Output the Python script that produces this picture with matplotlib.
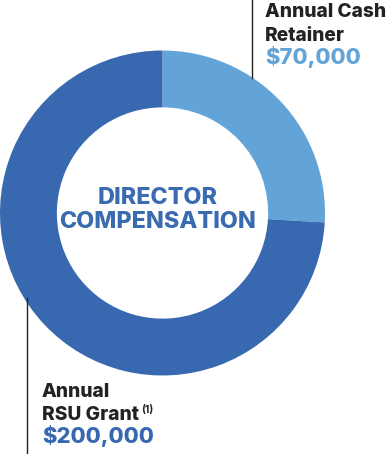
import matplotlib
matplotlib.use("Agg")
import matplotlib.pyplot as plt

labels = ["Annual Cash Retainer", "Annual RSU Grant"]
values = [70000, 200000]
value_labels = ["$70,000", "$200,000"]
colors = ["#62A4D8", "#3869B0"]

W, H = 386, 454
fig = plt.figure(figsize=(W / 100, H / 100), dpi=100)
ax = fig.add_axes([0, 0, 1, 1])

cx, cy, R = 162.5, H - 213, 162.5
ax.pie(values, colors=colors, startangle=90, counterclock=False,
       radius=R, center=(cx, cy), frame=True,
       wedgeprops=dict(width=R * 0.35, linewidth=0))
ax.set_xlim(0, W)
ax.set_ylim(0, H)
ax.set_aspect("equal")
ax.axis("off")

fam = ["Inter", "DejaVu Sans"]
dark_text = "#222222"
fs_lab = 13.8
fs_val = 15.8
fs_c = 16.8
wt = "heavy"

# center title
ax.text(158, H - 203.5, "DIRECTOR", ha="center", va="baseline", fontsize=fs_c,
        fontweight=wt, color="#3A6AB0", family=fam)
ax.text(158, H - 227.5, "COMPENSATION", ha="center", va="baseline", fontsize=fs_c,
        fontweight=wt, color="#3A6AB0", family=fam)

# top-right label
ax.plot([252, 252], [H - 0, H - 78], color="#222222", lw=1)
ax.text(265, H - 17, "Annual Cash", ha="left", va="baseline", fontsize=fs_lab,
        fontweight=wt, color=dark_text, family=fam)
ax.text(265, H - 41, "Retainer", ha="left", va="baseline", fontsize=fs_lab,
        fontweight=wt, color=dark_text, family=fam)
ax.text(265, H - 64, value_labels[0], ha="left", va="baseline", fontsize=fs_val,
        fontweight=wt, color=colors[0], family=fam)

# bottom-left label
ax.plot([27, 27], [H - 298, 0], color="#222222", lw=1)
ax.text(42, H - 397, "Annual", ha="left", va="baseline", fontsize=fs_lab,
        fontweight=wt, color=dark_text, family=fam)
t = ax.text(42, H - 420, "RSU Grant", ha="left", va="baseline", fontsize=fs_lab,
            fontweight=wt, color=dark_text, family=fam)
fig.canvas.draw()
bb = t.get_window_extent()
x_end = ax.transData.inverted().transform((bb.x1, bb.y0))[0]
ax.text(x_end + 2, H - 413, "(1)", ha="left", va="baseline", fontsize=7.5,
        fontweight="bold", color=dark_text, family=fam)
ax.text(42, H - 443, value_labels[1], ha="left", va="baseline", fontsize=fs_val,
        fontweight=wt, color=colors[1], family=fam)

fig.savefig("out.png", dpi=100)
